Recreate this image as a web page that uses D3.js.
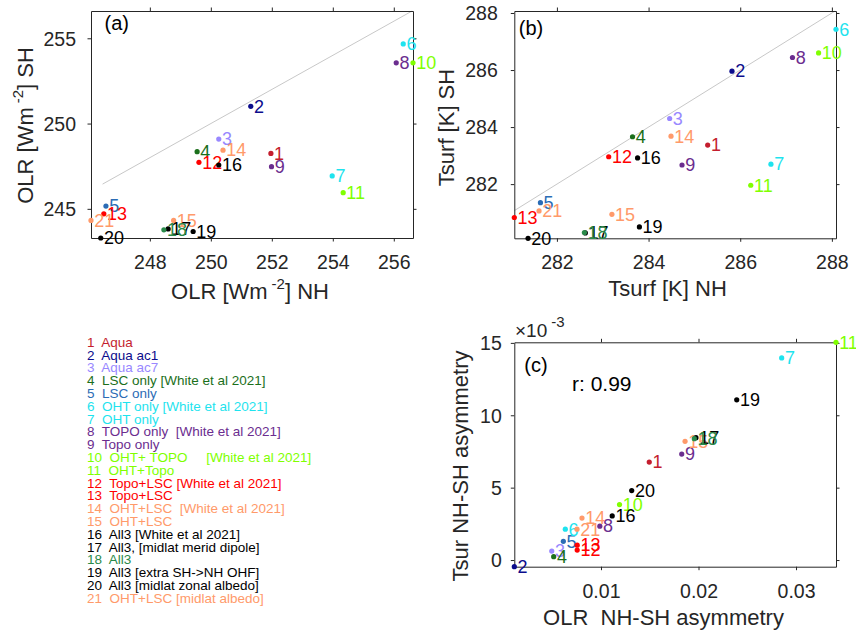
<!DOCTYPE html>
<html>
<head>
<meta charset="utf-8">
<script src="https://cdn.jsdelivr.net/npm/d3@7"></script>
<style>
  html, body { margin: 0; padding: 0; background: #fff; }
  svg { display: block; font-family: "Liberation Sans", Arial, Helvetica, sans-serif; }
  text { white-space: pre; }
</style>
</head>
<body>
<svg id="fig" width="856" height="632"></svg>
<script>
// Experiment names (legend order, 1..21)
const names = [
  "Aqua", "Aqua ac1", "Aqua ac7",
  "LSC only [White et al 2021]", "LSC only",
  "OHT only [White et al 2021]", "OHT only",
  "TOPO only  [White et al 2021]", "Topo only",
  "OHT+ TOPO     [White et al 2021]", "OHT+Topo",
  "Topo+LSC [White et al 2021]", "Topo+LSC",
  "OHT+LSC  [White et al 2021]", "OHT+LSC",
  "All3 [White et al 2021]", "All3, [midlat merid dipole]", "All3",
  "All3 [extra SH->NH OHF]", "All3 [midlat zonal albedo]", "OHT+LSC [midlat albedo]"
];

// Global-mean OLR per hemisphere [W m-2]
const olrNH = [251.97, 251.31, 250.26, 249.55, 246.56, 256.31, 253.98, 256.08, 251.99, 256.63, 254.34,
               249.61, 246.49, 250.40, 248.78, 250.26, 248.60, 248.46, 249.42, 246.39, 246.07];
const olrSH = [248.25, 251.01, 249.09, 248.35, 245.16, 254.67, 246.93, 253.56, 247.47, 253.56, 245.95,
               247.73, 244.71, 248.44, 244.32, 247.57, 243.82, 243.77, 243.67, 243.29, 244.32];

// Surface temperature per hemisphere [K]
const tsNH = [285.29, 285.82, 284.46, 283.65, 281.64, 288.09, 286.67, 287.14, 284.73, 287.71, 286.23,
              283.13, 281.07, 284.49, 283.20, 283.76, 282.62, 282.60, 283.80, 281.37, 281.61];
const tsSH = [283.37, 285.96, 284.30, 283.66, 281.35, 287.43, 282.70, 286.44, 282.67, 286.60, 281.96,
              282.96, 280.83, 283.68, 280.94, 282.92, 280.29, 280.30, 280.50, 280.10, 281.06];

// Normalised NH-SH asymmetries (Tsurf values in units of 1e-3)
const asymOLR = [0.01495, 0.00111, 0.00495, 0.00515, 0.00614, 0.00634, 0.02853, 0.00988, 0.01828, 0.01190, 0.03410,
                 0.00756, 0.00756, 0.00805, 0.01862, 0.01115, 0.01974, 0.01957, 0.02392, 0.01315, 0.00754];
const asymTs = [6.77, -0.46, 0.62, 0.23, 1.29, 2.13, 13.96, 2.34, 7.32, 3.83, 15.04,
                0.69, 1.03, 2.90, 8.20, 3.05, 8.45, 8.38, 11.07, 4.80, 2.13];

// Tick values
const ticksA = { x: [248, 250, 252, 254, 256], y: [245, 250, 255] };
const ticksB = { x: [282, 284, 286, 288], y: [282, 284, 286, 288] };
const ticksC = { x: [0.01, 0.02, 0.03], y: [0, 5, 10, 15] };

// 1:1 reference line end values
const oneToOneA = [246.45, 256.60];
const oneToOneB = [281.07, 288.07];

const correlationText = "r: 0.99";

// Marker colours per experiment
const colors = [
  "#c41e2e", "#0c0c8c", "#9988ff", "#1b6f1b", "#2b6cb5", "#1ee3ee", "#1ee3ee",
  "#6b2d8f", "#6b2d8f", "#80ff00", "#80ff00", "#ff0000", "#ff0000",
  "#ff9a6a", "#ff9a6a", "#000000", "#000000", "#2a8a4a", "#000000", "#000000", "#ff9a6a"
];

const AX = "#262626";
const svg = d3.select("#fig");

function panel(o) {
  const g = svg.append("g");
  const x = d3.scaleLinear().domain(o.xDomain).range([o.left, o.right]);
  const y = d3.scaleLinear().domain(o.yDomain).range([o.bottom, o.top]);
  const tl = 3.5;

  // one-to-one line
  if (o.line) {
    g.append("line")
      .attr("x1", x(o.line[0])).attr("y1", y(o.line[0]))
      .attr("x2", x(o.line[1])).attr("y2", y(o.line[1]))
      .attr("stroke", "#c8c8c8").attr("stroke-width", 1);
  }

  // axes on all four sides, outward ticks
  const bottom = d3.axisBottom(x).tickValues(o.xt).tickSizeInner(tl).tickSizeOuter(0).tickFormat(o.xf || d3.format("d"));
  const top = d3.axisTop(x).tickValues(o.xt).tickSizeInner(tl).tickSizeOuter(0).tickFormat("");
  const left = d3.axisLeft(y).tickValues(o.yt).tickSizeInner(tl).tickSizeOuter(0).tickFormat(d3.format("d"));
  const right = d3.axisRight(y).tickValues(o.yt).tickSizeInner(tl).tickSizeOuter(0).tickFormat("");

  const gb = g.append("g").attr("transform", `translate(0,${o.bottom})`).call(bottom);
  const gt = g.append("g").attr("transform", `translate(0,${o.top})`).call(top);
  const gl = g.append("g").attr("transform", `translate(${o.left},0)`).call(left);
  const gr = g.append("g").attr("transform", `translate(${o.right},0)`).call(right);
  [gb, gt, gl, gr].forEach(a => {
    a.select(".domain").attr("stroke", AX).attr("stroke-width", 1);
    a.selectAll(".tick line").attr("stroke", AX);
  });
  gb.selectAll(".tick text").attr("y", 31).attr("dy", 0)
    .attr("fill", AX).attr("font-size", 19.5).attr("font-family", null);
  gl.selectAll(".tick text").attr("x", -o.yGap).attr("dy", "0.35em")
    .attr("fill", AX).attr("font-size", 19.5).attr("font-family", null);

  // points + numeric labels
  d3.range(o.xs.length).forEach(i => {
    const px = x(o.xs[i]), py = y(o.ys[i]);
    g.append("circle").attr("cx", px).attr("cy", py).attr("r", 2.6).attr("fill", colors[i]);
    g.append("text").attr("x", px + 3.2).attr("y", py).attr("dy", "0.35em")
      .attr("font-size", 18).attr("fill", colors[i]).text(String(i + 1));
  });

  // panel tag
  g.append("text").attr("x", o.left + o.tagDx).attr("y", o.top + o.tagDy)
    .attr("font-size", 20).attr("fill", "#000").text(o.tag);
  return { g, x, y };
}

// (a) OLR
panel({
  left: 91, right: 413, top: 11, bottom: 238,
  xDomain: d3.extent(olrNH), yDomain: [d3.min(olrSH), oneToOneA[1]],
  xs: olrNH, ys: olrSH, xt: ticksA.x, yt: ticksA.y, line: oneToOneA,
  tag: "(a)", tagDx: 13.5, tagDy: 18.5, yGap: 15
});

// (b) Tsurf
panel({
  left: 514.3, right: 836, top: 11, bottom: 238.3,
  xDomain: d3.extent(tsNH), yDomain: [d3.min(tsSH), oneToOneB[1]],
  xs: tsNH, ys: tsSH, xt: ticksB.x, yt: ticksB.y, line: oneToOneB,
  tag: "(b)", tagDx: 4.5, tagDy: 23.5, yGap: 16.5
});

// (c) asymmetries
const pc = panel({
  left: 514.3, right: 836, top: 342.3, bottom: 566.7,
  xDomain: d3.extent(asymOLR), yDomain: d3.extent(asymTs),
  xs: asymOLR, ys: asymTs, xt: ticksC.x, yt: ticksC.y,
  tag: "(c)", tagDx: 10, tagDy: 29.5, yGap: 12.5,
  xf: d3.format(".2f")
});
pc.g.append("text").attr("x", 572).attr("y", 391)
  .attr("font-size", 21).attr("fill", "#000").text(correlationText);

// exponent label on (c) y axis
const ex = svg.append("text").attr("x", 515).attr("y", 337).attr("font-size", 19).attr("fill", AX);
ex.append("tspan").text("\u00d710");
ex.append("tspan").attr("dx", 4).attr("dy", -10).attr("font-size", 15).text("-3");

// axis titles
function addParts(t, parts) {
  parts.forEach(p => {
    const s = t.append("tspan").text(p.t);
    if (p.sup) s.attr("font-size", 15).attr("dy", -10).attr("dx", 4);
    if (p.down) s.attr("dy", 10);
  });
}
function xTitle(cx, by, parts) {
  const t = svg.append("text").attr("x", cx).attr("y", by).attr("text-anchor", "middle")
    .attr("font-size", 22).attr("fill", AX);
  addParts(t, parts);
}
function yTitle(bx, cy, parts) {
  const t = svg.append("text").attr("transform", `translate(${bx},${cy}) rotate(-90)`)
    .attr("text-anchor", "middle").attr("font-size", 22).attr("fill", AX);
  addParts(t, parts);
}
xTitle(250, 299, [{ t: "OLR [Wm" }, { t: "-2", sup: true }, { t: "] NH", down: true }]);
yTitle(33, 125.5, [{ t: "OLR [Wm" }, { t: "-2", sup: true }, { t: "] SH", down: true }]);
xTitle(667.5, 295.5, [{ t: "Tsurf [K] NH" }]);
yTitle(454, 127.5, [{ t: "Tsurf [K] SH" }]);
xTitle(663.5, 625, [{ t: "OLR  NH-SH asymmetry" }]);
yTitle(467.5, 466, [{ t: "Tsur NH-SH asymmetry" }]);

// legend
const lg = svg.append("g");
names.forEach((n, i) => {
  lg.append("text").attr("x", 87).attr("y", 346.7 + i * 12.8)
    .attr("font-size", 13.5).attr("fill", colors[i]).text(`${i + 1}  ${n}`);
});
</script>
</body>
</html>
